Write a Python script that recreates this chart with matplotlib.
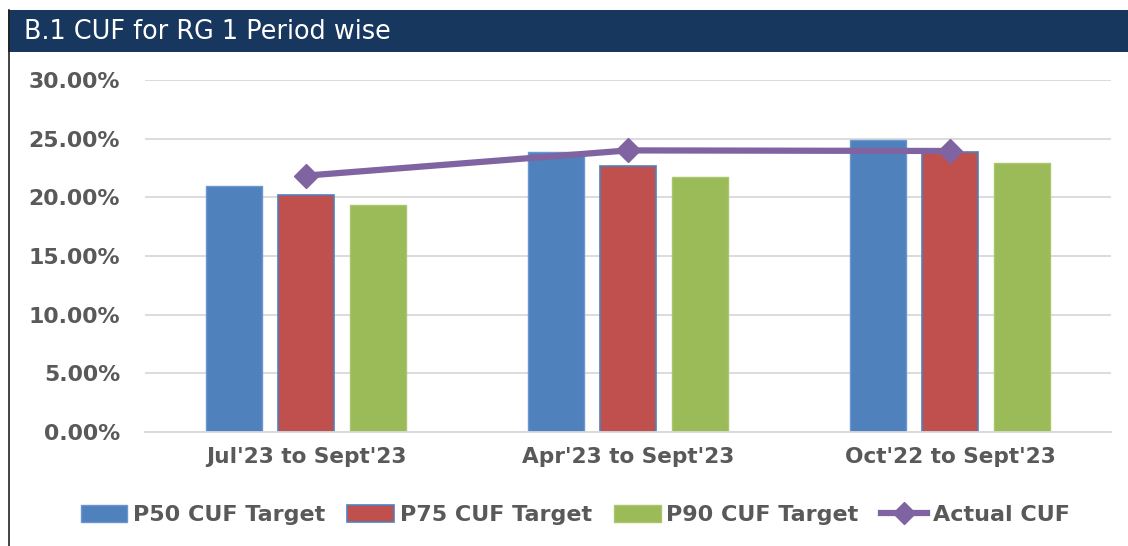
import matplotlib
matplotlib.use("Agg")
import matplotlib.pyplot as plt
from matplotlib.patches import Rectangle
from matplotlib.lines import Line2D
from matplotlib.ticker import FuncFormatter
import numpy as np

categories = ["Jul'23 to Sept'23", "Apr'23 to Sept'23", "Oct'22 to Sept'23"]
p50 = [21.0, 23.9, 24.9]
p75 = [20.2, 22.7, 23.9]
p90 = [19.35, 21.7, 22.9]
actual = [21.85, 24.0, 23.95]
series_names = ["P50 CUF Target", "P75 CUF Target", "P90 CUF Target", "Actual CUF"]
title = "B.1 CUF for RG 1 Period wise"

c_blue = "#4F81BD"
c_red = "#C0504D"
c_green = "#9BBB59"
c_purple = "#8064A2"
txt = "#595959"

fig = plt.figure(figsize=(11.28, 5.46), dpi=100)
W, H = 1128, 546

# header band
fig.patches.append(Rectangle((8 / W, 1 - 52 / H), 1 - 8 / W, 42 / H, transform=fig.transFigure,
                             facecolor="#17375E", edgecolor="none", zorder=0))
fig.add_artist(Line2D([8.5 / W, 8.5 / W], [0, 1 - 10 / H], transform=fig.transFigure, color="#222222", lw=1.2))
fig.text(24 / W, 1 - 32 / H, title, color="white", fontsize=18.4, va="center", ha="left",
         family="DejaVu Sans")

ax = fig.add_axes([145 / W, 1 - 432 / H, (1111 - 145) / W, (432 - 80) / H])
x = np.arange(len(categories))
bw = 0.174
off = 0.224
h1 = ax.bar(x - off, p50, bw, color=c_blue, edgecolor="#6A97CF", linewidth=1.0, zorder=2)
h2 = ax.bar(x, p75, bw, color=c_red, edgecolor=c_blue, linewidth=1.2, zorder=2)
h3 = ax.bar(x + off, p90, bw, color=c_green, edgecolor="#A9C66E", linewidth=1.0, zorder=2)
h4, = ax.plot(x, actual, color=c_purple, lw=4.5, marker="D", markersize=12, zorder=3)

ax.set_xlim(-0.5, 2.5)
ax.set_ylim(0, 30)
ax.set_yticks(np.arange(0, 31, 5))
ax.yaxis.set_major_formatter(FuncFormatter(lambda v, p: f"{v:.2f}%"))
ax.grid(axis="y", color="#D9D9D9", lw=1.3, zorder=0)
ax.set_axisbelow(True)
for s in ["top", "right", "left"]:
    ax.spines[s].set_visible(False)
ax.spines["bottom"].set_color("#D9D9D9")
ax.spines["bottom"].set_linewidth(1.3)
ax.tick_params(axis="both", length=0, colors=txt)
ax.tick_params(axis="y", labelsize=15.8, pad=18)
ax.tick_params(axis="x", labelsize=15.6, pad=11)
ax.set_xticks(x)
ax.set_xticklabels(categories)
for lab in ax.get_xticklabels() + ax.get_yticklabels():
    lab.set_fontweight("bold")
    lab.set_color(txt)

leg_h4 = Line2D([], [], color=c_purple, lw=4.5, marker="D", markersize=11)
leg = fig.legend([h1, h2, h3, leg_h4], series_names, loc="center", bbox_to_anchor=(0.51, 1 - 515 / H),
                 ncol=4, frameon=False, fontsize=16, handlelength=2.1, handleheight=0.8,
                 handletextpad=0.25, columnspacing=1.0)
for t in leg.get_texts():
    t.set_color(txt)
    t.set_fontweight("bold")

fig.savefig("out.png", dpi=100, facecolor="white")
